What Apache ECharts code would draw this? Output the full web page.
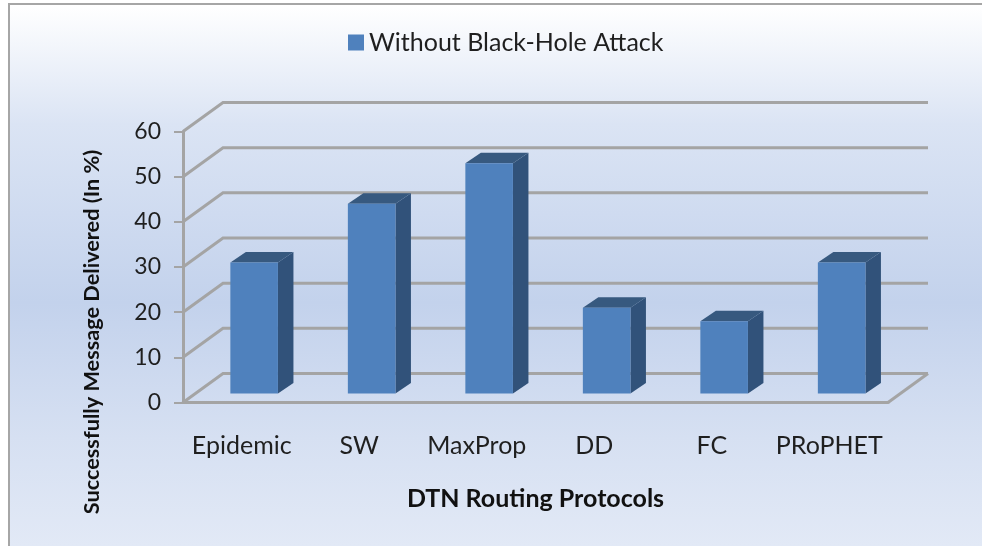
<!DOCTYPE html>
<html>
<head>
<meta charset="utf-8">
<style>
  html, body { margin: 0; padding: 0; background: #fff; width: 982px; height: 546px; overflow: hidden; }
  #panel {
    position: absolute; left: 8px; top: 3px; width: 974px; height: 543px; box-sizing: border-box;
    border-left: 2px solid #a6a6a6; border-top: 2px solid #a6a6a6;
    background: linear-gradient(180deg, #ffffff 0%, #dbe4f4 22%, #c3d2ec 55%, #d6e0f2 80%, #e2e9f6 100%);
  }
  #chart { position: absolute; left: 0; top: 0; width: 982px; height: 546px; }
</style>
<script src="https://cdn.jsdelivr.net/npm/echarts@6/dist/echarts.min.js"></script>
</head>
<body>
<div id="panel"></div>
<div id="chart"></div>
<script>
// Message delivery per DTN routing protocol
const categories = ['Epidemic', 'SW', 'MaxProp', 'DD', 'FC', 'PRoPHET'];
const deliveredPct = [29, 42, 51, 19, 16, 29];
const yTicks = [0, 10, 20, 30, 40, 50, 60];
const seriesName = 'Without Black-Hole Attack';

// Oblique projection of the floor and of each column
const FLOOR_DX = 40, FLOOR_DY = -29;
const BAR_DX = 15.5, BAR_DY = -10.5;
const BAR_SHIFT_X = 12.4, BAR_SHIFT_Y = -9;
const BAR_WIDTH_RATIO = 0.405;
const FONT = 'Lato, "Open Sans", sans-serif';
const LINE_COLOR = '#a4a4a4';
const GRID_STROKE = { stroke: LINE_COLOR, lineWidth: 3, fill: null };

function renderWallLine(params, api) {
  const tick = api.value(1);
  const left = api.coord([0, tick]);
  const cs = params.coordSys;
  const xL = cs.x, xR = cs.x + cs.width, y = left[1];
  const children = [{
    type: 'polyline',
    shape: { points: [[xL, y], [xL + FLOOR_DX, y + FLOOR_DY], [xR + FLOOR_DX, y + FLOOR_DY]] },
    style: GRID_STROKE
  }];
  if (tick === 0) {
    children.push({
      type: 'line',
      shape: { x1: xR, y1: y, x2: xR + FLOOR_DX, y2: y + FLOOR_DY },
      style: GRID_STROKE
    });
  }
  return { type: 'group', children };
}

function renderColumn(params, api) {
  const i = api.value(0);
  const top = api.coord([i, api.value(1)]);
  const base = api.coord([i, 0]);
  const w = api.size([1, 0])[0] * BAR_WIDTH_RATIO;
  const x0 = top[0] - w / 2 + BAR_SHIFT_X, x1 = x0 + w;
  const yTop = top[1] + BAR_SHIFT_Y, yBase = base[1] + BAR_SHIFT_Y;
  const poly = (points, fill) => ({ type: 'polygon', shape: { points }, style: { fill } });
  return {
    type: 'group',
    children: [
      poly([[x1, yTop], [x1 + BAR_DX, yTop + BAR_DY], [x1 + BAR_DX, yBase + BAR_DY], [x1, yBase]], '#31527a'),
      poly([[x0, yTop], [x0 + BAR_DX, yTop + BAR_DY], [x1 + BAR_DX, yTop + BAR_DY], [x1, yTop]], '#37597f'),
      {
        type: 'rect',
        shape: { x: x0, y: yTop, width: w, height: yBase - yTop },
        style: { fill: '#4f81bd' }
      }
    ]
  };
}

const chart = echarts.init(document.getElementById('chart'), null, { renderer: 'canvas' });
chart.setOption({
  backgroundColor: 'transparent',
  animation: false,
  legend: {
    data: [seriesName],
    top: 25,
    left: 343,
    itemWidth: 16,
    itemHeight: 16,
    itemGap: 7,
    icon: 'rect',
    textStyle: { fontFamily: FONT, fontSize: 25, color: '#1f1f1f', padding: 0 }
  },
  grid: { left: 183, right: 94, top: 131.5, height: 271 },
  xAxis: {
    type: 'category',
    data: categories,
    axisLine: { lineStyle: { color: LINE_COLOR, width: 3 } },
    axisTick: { show: false },
    axisLabel: { margin: 31, fontFamily: FONT, fontSize: 25, color: '#1f1f1f', interval: 0 },
    name: 'DTN Routing Protocols',
    nameLocation: 'middle',
    nameGap: 84,
    nameTextStyle: { fontFamily: FONT, fontSize: 25, fontWeight: 'bold', color: '#111' }
  },
  yAxis: {
    type: 'value',
    min: 0,
    max: 60,
    interval: 10,
    splitLine: { show: false },
    axisLine: { show: true, lineStyle: { color: LINE_COLOR, width: 3 } },
    axisTick: { show: true, length: 9, lineStyle: { color: LINE_COLOR, width: 2 } },
    axisLabel: { margin: 22, fontFamily: FONT, fontSize: 23, color: '#1f1f1f' },
    name: 'Successfully Message Delivered (In %)',
    nameLocation: 'middle',
    nameGap: 80,
    nameRotate: 90,
    nameTextStyle: { fontFamily: FONT, fontSize: 21.7, fontWeight: 'bold', color: '#111', padding: [0, 130, 0, 0] }
  },
  series: [
    {
      type: 'custom',
      name: 'walls',
      silent: true,
      z: 1,
      renderItem: renderWallLine,
      encode: { x: 0, y: 1 },
      data: yTicks.map(t => [0, t])
    },
    {
      type: 'custom',
      name: seriesName,
      z: 3,
      itemStyle: { color: '#4f81bd' },
      renderItem: renderColumn,
      encode: { x: 0, y: 1 },
      data: deliveredPct.map((v, i) => [i, v])
    }
  ]
});
</script>
</body>
</html>
